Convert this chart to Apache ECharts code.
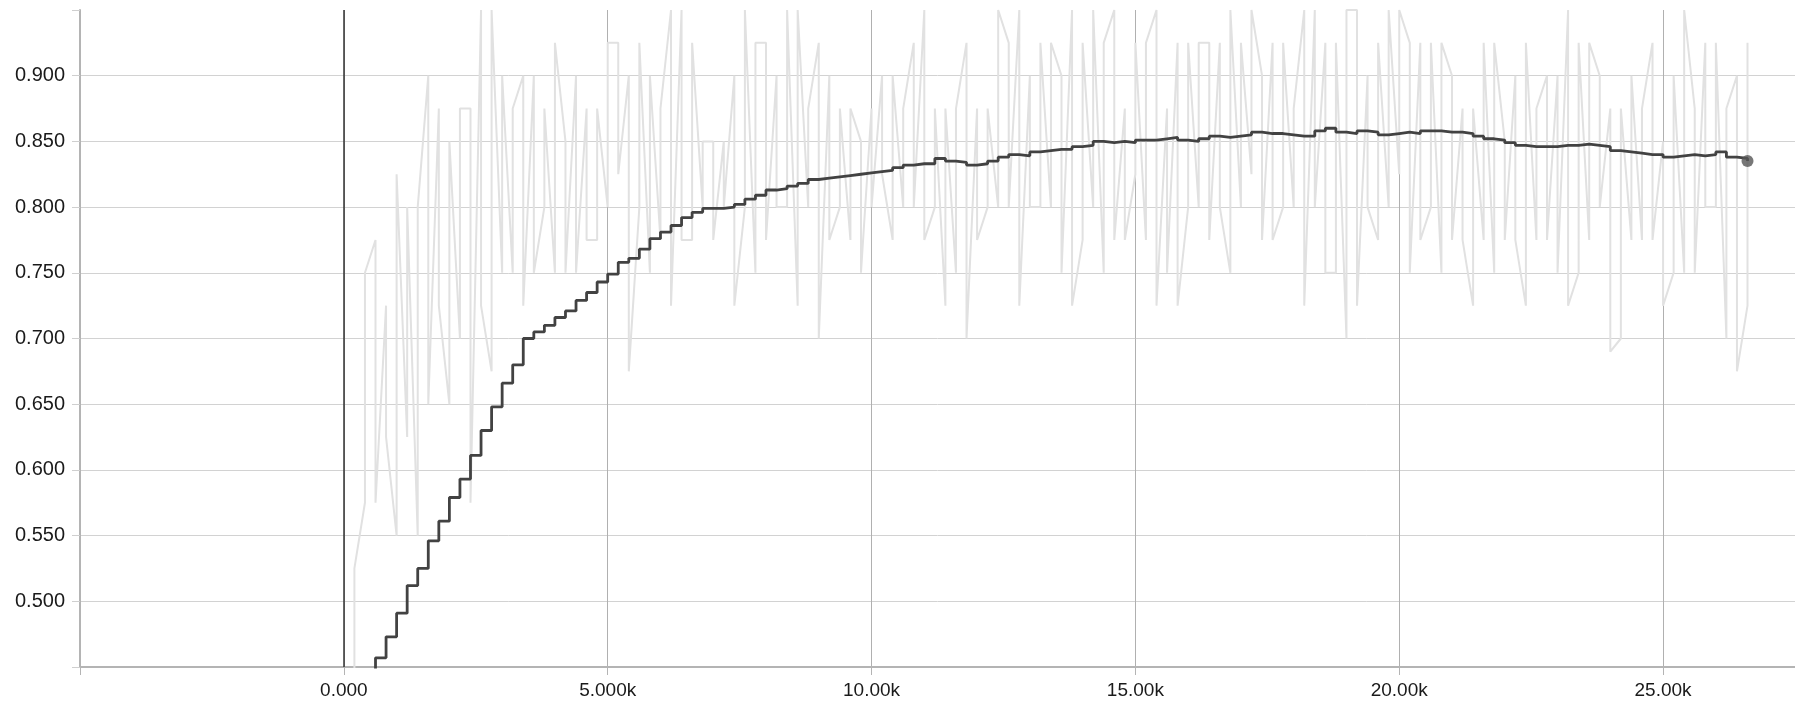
<!DOCTYPE html>
<html>
<head>
<meta charset="utf-8">
<script src="https://cdn.jsdelivr.net/npm/echarts@6/dist/echarts.min.js"></script>
<style>
html,body{margin:0;padding:0;background:#fff;}
#chart{width:1795px;height:709px;}
</style>
</head>
<body>
<div id="chart"></div>
<script>
// Training steps (x positions of logged points)
const steps = [200,400,600,800,1000,1200,1400,1600,1800,2000,
2200,2400,2600,2800,3000,3200,3400,3600,3800,4000,
4200,4400,4600,4800,5000,5200,5400,5600,5800,6000,
6200,6400,6600,6800,7000,7200,7400,7600,7800,8000,
8200,8400,8600,8800,9000,9200,9400,9600,9800,10000,
10200,10400,10600,10800,11000,11200,11400,11600,11800,12000,
12200,12400,12600,12800,13000,13200,13400,13600,13800,14000,
14200,14400,14600,14800,15000,15200,15400,15600,15800,16000,
16200,16400,16600,16800,17000,17200,17400,17600,17800,18000,
18200,18400,18600,18800,19000,19200,19400,19600,19800,20000,
20200,20400,20600,20800,21000,21200,21400,21600,21800,22000,
22200,22400,22600,22800,23000,23200,23400,23600,23800,24000,
24200,24400,24600,24800,25000,25200,25400,25600,25800,26000,
26200,26400,26600];

// Raw values: lower and higher of the two values logged at each step
const rawLow = [.40,.575,.575,.625,.55,.625,.55,.65,.725,.65,
.70,.575,.725,.675,.75,.75,.725,.75,.80,.75,
.75,.75,.775,.775,.80,.825,.675,.80,.75,.775,
.725,.775,.775,.80,.775,.80,.725,.80,.75,.775,
.80,.80,.725,.80,.70,.775,.80,.775,.75,.80,
.825,.775,.80,.80,.775,.80,.725,.75,.70,.775,
.80,.80,.80,.725,.80,.80,.80,.75,.725,.775,
.80,.75,.775,.775,.825,.775,.725,.75,.725,.80,
.80,.775,.80,.75,.80,.825,.775,.775,.80,.80,
.725,.80,.75,.75,.70,.725,.80,.775,.80,.825,
.75,.775,.80,.75,.775,.775,.725,.775,.75,.775,
.775,.725,.775,.775,.75,.725,.75,.775,.80,.69,
.70,.775,.775,.775,.725,.75,.75,.75,.80,.80,
.70,.675,.725];

const rawHigh = [.525,.75,.775,.725,.825,.80,.80,.90,.875,.85,
.875,.875,.95,.95,.90,.875,.90,.90,.875,.925,
.85,.90,.875,.875,.925,.925,.90,.925,.90,.875,
.95,.95,.925,.85,.85,.85,.90,.95,.925,.925,
.90,.95,.95,.875,.925,.90,.875,.875,.85,.875,
.90,.90,.875,.925,.95,.875,.875,.875,.925,.875,
.875,.95,.925,.95,.90,.925,.925,.90,.95,.925,
.95,.925,.95,.875,.925,.925,.95,.875,.925,.925,
.925,.925,.925,.95,.925,.95,.90,.925,.925,.875,
.95,.95,.925,.925,.95,.95,.90,.925,.95,.95,
.925,.925,.925,.925,.90,.875,.875,.925,.925,.85,
.90,.925,.875,.90,.90,.95,.925,.925,.90,.875,
.875,.90,.875,.925,.85,.90,.95,.875,.925,.925,
.875,.90,.925];

// 1 = low value logged first, 0 = high value logged first
const lowFirst = [1,1,0,0,1,1,1,0,0,1,
1,0,0,1,1,1,0,0,1,1,
0,0,0,1,1,0,0,1,1,1,
0,0,1,1,0,0,0,1,1,0,
0,1,1,1,0,0,1,1,0,0,
0,1,1,0,0,1,1,1,0,0,
1,1,0,0,0,1,1,0,0,1,
1,1,0,0,1,1,0,0,0,1,
1,0,0,1,1,1,0,0,1,1,
0,0,0,1,1,0,0,1,1,1,
0,0,1,1,0,0,1,1,1,0,
0,1,1,0,0,0,1,1,0,0,
1,1,1,0,0,1,1,0,0,1,
1,0,1];

// Smoothed values (level held after each step)
const smoothed = [.41,.435,.457,.473,.491,.512,.525,.546,.561,.579,
.593,.611,.630,.648,.666,.680,.700,.705,.710,.716,
.721,.729,.735,.743,.749,.758,.761,.768,.776,.781,
.786,.792,.796,.799,.799,.800,.802,.806,.809,.813,
.814,.816,.818,.821,.822,.823,.824,.825,.826,.827,
.828,.830,.832,.833,.833,.837,.835,.834,.832,.833,
.835,.838,.840,.839,.842,.843,.844,.844,.846,.847,
.850,.849,.850,.849,.851,.851,.852,.853,.851,.850,
.852,.854,.853,.854,.855,.857,.856,.856,.855,.854,
.854,.858,.860,.857,.856,.858,.857,.855,.856,.857,
.856,.858,.858,.857,.857,.856,.854,.852,.851,.849,
.847,.846,.846,.846,.847,.847,.848,.847,.846,.843,
.842,.841,.840,.840,.838,.839,.840,.839,.840,.842,
.838,.837,.835];

const rawData = [];
steps.forEach((s, i) => {
  if (lowFirst[i]) { rawData.push([s, rawLow[i]]); rawData.push([s, rawHigh[i]]); }
  else { rawData.push([s, rawHigh[i]]); rawData.push([s, rawLow[i]]); }
});
const smoothData = steps.map((s, i) => [s, smoothed[i]]);
const lastIdx = steps.length - 1;

const FONT = '"Liberation Sans", Arial, sans-serif';

function fmtX(v) {
  if (v < 0 || v > 25000) return '';
  if (v === 0) return '0.000';
  const k = v / 1000;
  return k < 10 ? k.toFixed(3) + 'k' : k.toFixed(2) + 'k';
}

const chart = echarts.init(document.getElementById('chart'), null, {renderer: 'canvas'});
chart.setOption({
  animation: false,
  backgroundColor: '#ffffff',
  grid: {left: 80, right: 0, top: 10, bottom: 42, containLabel: false},
  xAxis: {
    type: 'value', min: -5000, max: 27500, interval: 5000,
    axisLine: {show: true, onZero: false, lineStyle: {color: '#b4b4b4', width: 2}},
    axisTick: {show: true, length: 8, lineStyle: {color: '#b4b4b4', width: 1}},
    axisLabel: {formatter: fmtX, color: '#1a1a1a', fontSize: 19, fontFamily: FONT, margin: 14, showMaxLabel: false},
    splitLine: {show: true, showMinLine: false, showMaxLine: false, lineStyle: {color: '#b0b0b0', width: 1}}
  },
  yAxis: {
    type: 'value', min: 0.45, max: 0.95, interval: 0.05,
    axisLine: {show: true, onZero: false, lineStyle: {color: '#b4b4b4', width: 2}},
    axisTick: {show: true, length: 8, lineStyle: {color: '#cfcfcf', width: 1}},
    axisLabel: {
      formatter: v => (v > 0.49 && v < 0.91) ? v.toFixed(3) : '',
      color: '#1a1a1a', fontSize: 20, fontFamily: FONT, margin: 15
    },
    splitLine: {show: true, showMinLine: false, showMaxLine: false, lineStyle: {color: '#d2d2d2', width: 1}}
  },
  series: [
    {
      type: 'line', data: rawData, showSymbol: false, symbol: 'none',
      lineStyle: {color: '#e1e1e1', width: 2}, z: 2, silent: true,
      markLine: {
        silent: true, symbol: 'none', label: {show: false},
        lineStyle: {color: '#333', width: 1.5, type: 'solid'},
        data: [{xAxis: 0}]
      }
    },
    {
      type: 'line', data: smoothData, step: 'end', showSymbol: false, symbol: 'none',
      lineStyle: {color: '#424242', width: 2.8}, z: 4, silent: true
    },
    {
      type: 'scatter', data: [[steps[lastIdx], smoothed[lastIdx]]],
      symbol: 'circle', symbolSize: 12, itemStyle: {color: '#555'}, z: 5, silent: true
    }
  ]
});
</script>
</body>
</html>
